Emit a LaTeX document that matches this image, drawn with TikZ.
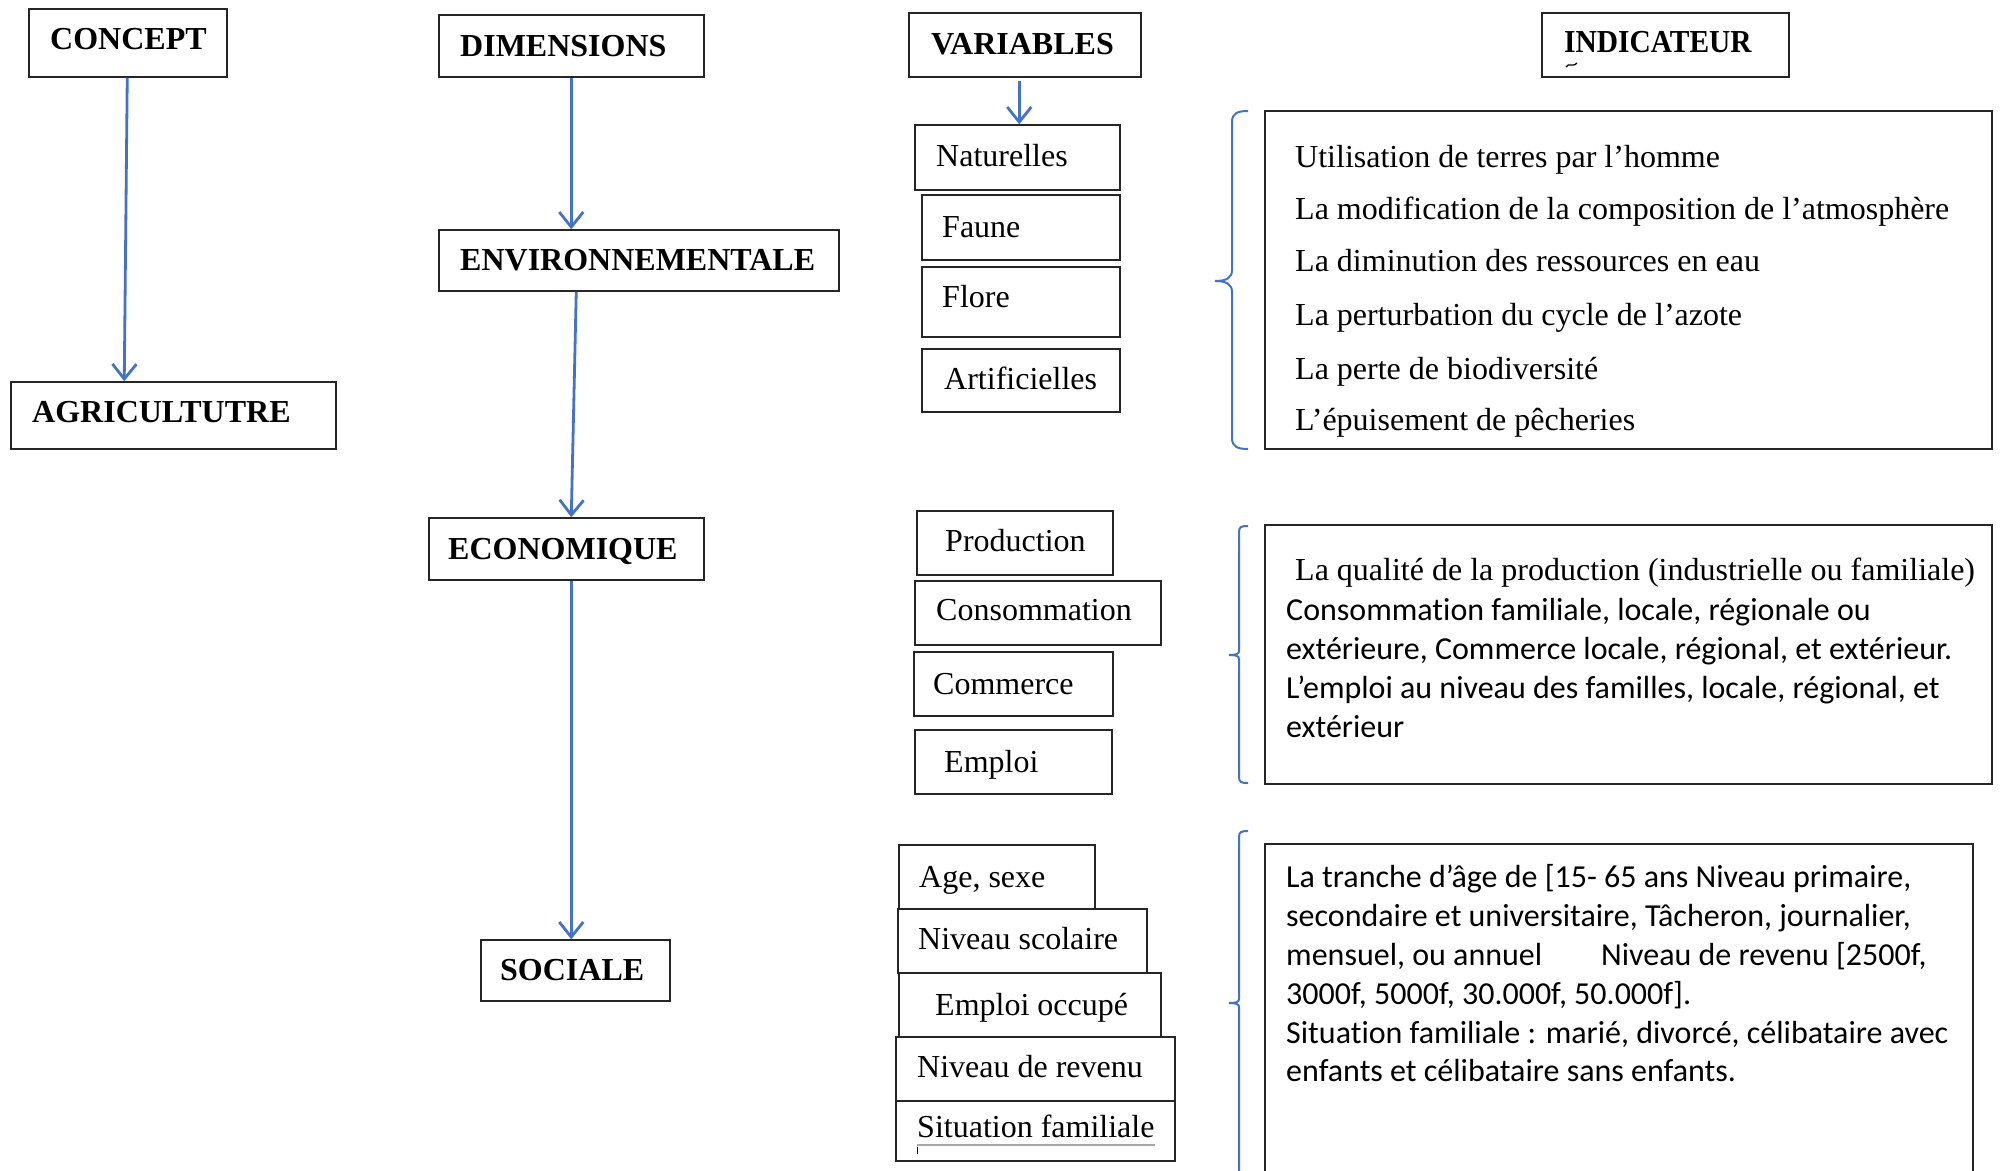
\documentclass[tikz,border=0pt]{standalone}
\usepackage{fontspec}
\setmainfont{Liberation Serif}
\newfontfamily\calib[Ligatures=NoCommon]{Carlito}
\usetikzlibrary{arrows.meta,calc}
\definecolor{arrblue}{HTML}{4472C4}
\newcommand\mkbox[5]{\node[box, minimum width={#4-#2}, minimum height={#5-#3}] (#1) at ({(#2+#4)/2},{(#3+#5)/2}) {};}
\begin{document}
\begin{tikzpicture}[x=1pt,y=-1pt,
 box/.style={draw=black!85, line width=1.5pt, inner sep=0pt},
 hd/.style={font=\fontsize{32}{38}\selectfont\bfseries, anchor=base west, inner sep=0pt},
 vt/.style={font=\fontsize{32}{38}\selectfont, anchor=base west, inner sep=0pt},
 ct/.style={font=\fontsize{32}{38}\selectfont\calib, anchor=base west, inner sep=0pt},
 arr/.style={draw=arrblue, line width=2.8pt, -{Straight Barb[length=15pt,width=24pt,line width=2.8pt]}},
 brace/.style={draw=arrblue, line width=2pt},
]
\useasboundingbox (0,0) rectangle (2002,1170);
\fill[white] (0,0) rectangle (2002,1170);
\clip (0,0) rectangle (2002,1170);

% headers
\mkbox{concept}{29}{9}{227}{77}
\node[hd] (tconcept) at (50,49) {CONCEPT};
\mkbox{agri}{11}{382}{336}{449}
\node[hd] (tagri) at (32,422) {AGRICULTUTRE};
\mkbox{dim}{439}{15}{704}{77}
\node[hd] (tdim) at (460,56) {DIMENSIONS};
\mkbox{env}{439}{230}{839}{291}
\node[hd] (tenv) at (460,270) {ENVIRONNEMENTALE};
\mkbox{eco}{429}{518}{704}{580}
\node[hd] (teco) at (448,559) {ECONOMIQUE};
\mkbox{soc}{481}{940}{670}{1001}
\node[hd] (tsoc) at (500,980) {SOCIALE};
\mkbox{var}{909}{13}{1141}{77}
\node[hd] (tvar) at (931,54) {VARIABLES};
\mkbox{ind}{1542}{13}{1789}{77}
\node[hd] (tind) at (1564,52) {\scalebox{0.92}[1]{INDICATEUR}};
\draw[line width=1.3pt] (1566,67) .. controls (1569,62) and (1572,68) .. (1577,63);

% variables
\mkbox{nat}{915}{125}{1120}{190}
\node[vt] (tnat) at (936,166) {Naturelles};
\mkbox{faune}{922}{195}{1120}{260}
\node[vt] (tfaune) at (942,237) {Faune};
\mkbox{flore}{922}{267}{1120}{337}
\node[vt] (tflore) at (942,307) {Flore};
\mkbox{arti}{922}{349}{1120}{412}
\node[vt] (tarti) at (944,389) {Artificielles};

\mkbox{prod}{917}{511}{1113}{575}
\node[vt] (tprod) at (945,551) {Production};
\mkbox{cons}{915}{581}{1161}{645}
\node[vt] (tcons) at (936,620) {Consommation};
\mkbox{comm}{914}{652}{1113}{716}
\node[vt] (tcomm) at (933,694) {Commerce};
\mkbox{empl}{915}{730}{1112}{794}
\node[vt] (templ) at (944,772) {Emploi};

\mkbox{age}{899}{845}{1095}{909}
\node[vt] (tage) at (919,887) {Age, sexe};
\mkbox{nsco}{898}{909}{1147}{973}
\node[vt] (tnsco) at (918,949) {Niveau scolaire};
\mkbox{eocc}{899}{973}{1161}{1037}
\node[vt] (teocc) at (935,1015) {Emploi occupé};
\mkbox{nrev}{896}{1037}{1175}{1101}
\node[vt] (tnrev) at (917,1077) {Niveau de revenu};
\mkbox{sitf}{896}{1101}{1175}{1161}
\node[vt] (tsitf) at (917,1137) {Situation familiale};
\draw[black!35, line width=2.2pt] (917,1145) -- (1155,1145);
\draw[black, line width=1pt] (917,1147) -- (917,1154);

% indicator boxes
\mkbox{ia}{1265}{111}{1992}{449}
\node[vt] (ia1) at (1295,167) {Utilisation de terres par l’homme};
\node[vt] (ia2) at (1295,219) {La modification de la composition de l’atmosphère};
\node[vt] (ia3) at (1295,271) {La diminution des ressources en eau};
\node[vt] (ia4) at (1295,325) {La perturbation du cycle de l’azote};
\node[vt] (ia5) at (1295,379) {La perte de biodiversité};
\node[vt] (ia6) at (1295,430) {L’épuisement de pêcheries};

\mkbox{ib}{1265}{525}{1992}{784}
\node[vt] (ib1) at (1295,580) {La qualité de la production (industrielle ou familiale)};
\node[ct] (ib2) at (1286,620) {Consommation familiale, locale, régionale ou};
\node[ct] (ib3) at (1286,659) {extérieure, Commerce locale, régional, et extérieur.};
\node[ct] (ib4) at (1286,698) {L’emploi au niveau des familles, locale, régional, et};
\node[ct] (ib5) at (1286,737) {extérieur};

\mkbox{ic}{1265}{844}{1973}{1180}
\node[ct] (ic1) at (1286,887) {La tranche d’âge de [15- 65 ans Niveau primaire,};
\node[ct] (ic2) at (1286,926) {secondaire et universitaire, Tâcheron, journalier,};
\node[ct] (ic3) at (1286,965) {mensuel, ou annuel};
\node[ct] (ic3b) at (1601,965) {Niveau de revenu [2500f,};
\node[ct] (ic4) at (1286,1004) {3000f, 5000f, 30.000f, 50.000f].};
\node[ct] (ic5) at (1286,1043) {Situation familiale : marié, divorcé, célibataire avec};
\node[ct] (ic6) at (1286,1081) {enfants et célibataire sans enfants.};

% braces
\draw[brace] (1248,111) .. controls (1238,111) and (1232,113) .. (1232,122) -- (1232,270)
  .. controls (1232,278) and (1226,281) .. (1215,281)
  .. controls (1226,281) and (1232,284) .. (1232,292) -- (1232,438)
  .. controls (1232,447) and (1238,449) .. (1248,449);
\draw[brace] (1248,526) .. controls (1241,526) and (1239,527) .. (1239,532) -- (1239,651)
  .. controls (1239,654) and (1236,655) .. (1229,655)
  .. controls (1236,655) and (1239,656) .. (1239,659) -- (1239,777)
  .. controls (1239,782) and (1241,783) .. (1248,783);
\draw[brace] (1248,831) .. controls (1241,831) and (1239,832) .. (1239,837) -- (1239,999)
  .. controls (1239,1002) and (1236,1003) .. (1229,1003)
  .. controls (1236,1003) and (1239,1004) .. (1239,1007) -- (1239,1180);

% arrows
\draw[arr] ($(concept.south west)+(99,0)$) -- ($(agri.north west)+(114,0)$);
\draw[arr] ($(dim.south west)+(133,0)$) -- ($(env.north west)+(133,0)$);
\draw[arr] ($(env.south west)+(138,0)$) -- ($(eco.north west)+(143,0)$);
\draw[arr] ($(eco.south west)+(143,0)$) -- ($(soc.north west)+(91,0)$);
\draw[arr] ($(var.south west)+(111,3)$) -- ($(nat.north west)+(105,0)$);
\end{tikzpicture}
\end{document}
